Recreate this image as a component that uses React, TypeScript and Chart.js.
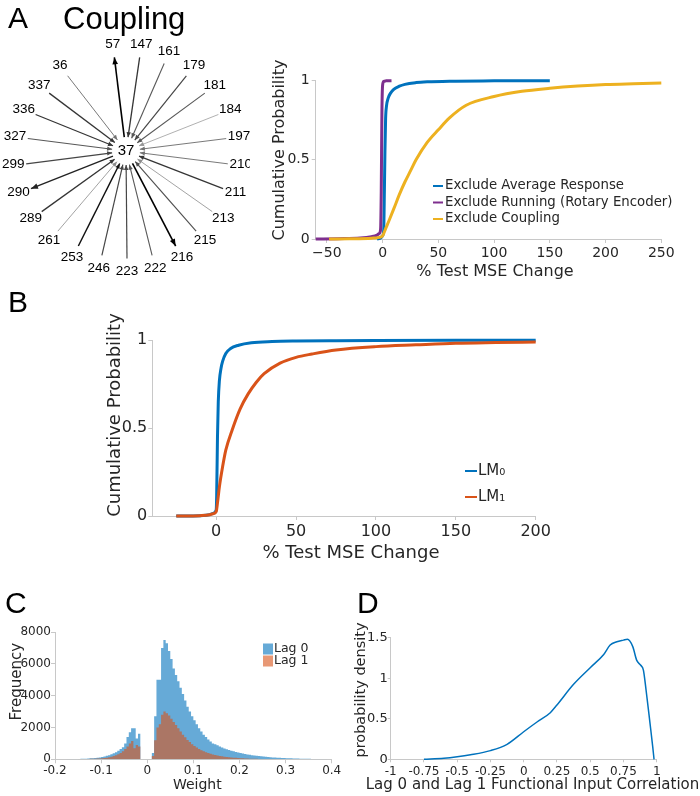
import React, { useEffect, useRef } from 'react';
import { Chart, registerables } from 'chart.js';

Chart.register(...registerables);

// ---------------- data ----------------
// Panel A (left): coupling graph around node 37
const couplingHub = '37';
const couplingNodes = ['57', '147', '161', '179', '181', '184', '197', '210', '211', '213', '215', '216', '222', '223', '246', '253', '261', '289', '290', '299', '327', '336', '337', '36'];
const couplingOutgoing = [true, false, false, false, false, false, false, false, false, false, false, true, false, false, false, false, false, false, true, false, false, false, false, false];
const couplingStrength = [1.0, 0.7, 0.5, 0.6, 0.5, 0.15, 0.35, 0.35, 0.7, 0.2, 0.55, 1.0, 0.5, 0.6, 0.6, 0.9, 0.2, 0.7, 0.8, 0.6, 0.5, 0.7, 0.7, 0.35];

// Panel A (right): CDFs of % test MSE change
const aAvgX = [-5, -2, 0, 1, 1.6, 2.1, 2.7, 3.5, 5, 7, 10, 15, 20, 30, 40, 60, 100, 150];
const aAvgY = [0, 0.005, 0.02, 0.06, 0.3, 0.55, 0.76, 0.84, 0.89, 0.92, 0.945, 0.965, 0.977, 0.988, 0.993, 0.997, 0.999, 1.0];
const aRunX = [-60, -40, -20, -10, -5, -3, -1.8, -1.2, -0.6, 0, 1, 3, 8];
const aRunY = [0, 0.002, 0.006, 0.015, 0.025, 0.035, 0.06, 0.3, 0.8, 0.97, 0.995, 0.999, 1.0];
const aCoupX = [-48, -30, -10, -3, 0, 3, 6, 10, 15, 20, 25, 30, 40, 50, 60, 75, 100, 125, 150, 175, 200, 225, 250];
const aCoupY = [0, 0.001, 0.005, 0.01, 0.02, 0.07, 0.12, 0.19, 0.28, 0.36, 0.43, 0.5, 0.61, 0.69, 0.765, 0.845, 0.9, 0.933, 0.952, 0.966, 0.976, 0.981, 0.985];
const aXTicks = [-50, 0, 50, 100, 150, 200, 250];
const aYTicks = [0, 0.5, 1];

// Panel B: LM0 / LM1
const bLm0X = [-25, -10, -4, -2, 0, 0.3, 0.8, 1.3, 2, 3, 4, 6, 9, 14, 22, 35, 50, 75, 100, 150, 200];
const bLm0Y = [0, 0.002, 0.008, 0.015, 0.035, 0.12, 0.45, 0.65, 0.77, 0.84, 0.88, 0.925, 0.953, 0.972, 0.986, 0.993, 0.996, 0.998, 0.999, 1.0, 1.0];
const bLm1X = [-25, -10, -4, -2, 0, 1, 2, 4, 6, 10, 15, 20, 25, 30, 40, 50, 60, 75, 100, 125, 150, 175, 200];
const bLm1Y = [0, 0.002, 0.007, 0.013, 0.025, 0.09, 0.166, 0.28, 0.375, 0.49, 0.61, 0.695, 0.76, 0.81, 0.87, 0.903, 0.922, 0.945, 0.964, 0.974, 0.983, 0.987, 0.99];
const bXTicks = [0, 50, 100, 150, 200];
const bYTicks = [0, 0.5, 1];

// Panel C: weight histograms (bins of 0.005 from -0.2 to 0.4)
const cBinStart = -0.2;
const cBinWidth = 0.005;
const cLag0 = [
  5, 5, 8, 10, 10, 12, 15, 15, 18, 20,
  25, 30, 35, 40, 50, 60, 70, 85, 100, 120,
  150, 180, 220, 260, 320, 380, 450, 540, 640, 760,
  1000, 1400, 1700, 1950, 1950, 1300, 1600, 0, 0, 0,
  0, 0, 400, 2700, 5000, 5000, 7000, 7500, 7300, 6800,
  6300, 5700, 5300, 4900, 4500, 4100, 3700, 3300, 3000, 2700,
  2450, 2200, 1950, 1750, 1550, 1400, 1250, 1120, 1000, 940,
  880, 800, 740, 680, 630, 580, 540, 500, 460, 420,
  390, 360, 330, 300, 280, 260, 240, 220, 200, 185,
  170, 155, 140, 128, 118, 108, 100, 92, 85, 78,
  72, 66, 60, 55, 50, 46, 42, 38, 35, 32,
  29, 26, 23, 20, 18, 16, 14, 12, 10, 8,
];
const cLag1 = [
  2, 2, 3, 4, 5, 5, 6, 7, 8, 10,
  12, 14, 16, 20, 24, 28, 34, 40, 48, 58,
  70, 85, 105, 130, 160, 200, 250, 320, 400, 500,
  650, 800, 1000, 1150, 700, 900, 800, 0, 0, 0,
  0, 0, 200, 1200, 2000, 2200, 2800, 3000, 2900, 2750,
  2550, 2350, 2150, 1950, 1750, 1550, 1380, 1220, 1080, 950,
  840, 740, 650, 570, 500, 440, 390, 345, 305, 270,
  240, 210, 185, 165, 145, 130, 115, 100, 90, 80,
  70, 62, 55, 48, 42, 37, 33, 29, 26, 23,
  20, 18, 16, 14, 12, 11, 10, 9, 8, 7,
  6, 5, 5, 4, 4, 3, 3, 3, 2, 2,
  2, 2, 1, 1, 1, 1, 1, 1, 1, 0,
];
const cXTicks = [-0.2, -0.1, 0, 0.1, 0.2, 0.3, 0.4];
const cYTicks = [0, 2000, 4000, 6000, 8000];

// Panel D: density of lag0/lag1 functional input correlation
const dX = [-0.75, -0.6, -0.5, -0.4, -0.25, -0.125, 0, 0.1, 0.2, 0.25, 0.375, 0.5, 0.6, 0.65, 0.7, 0.75, 0.78, 0.82, 0.85, 0.88, 0.9, 0.92, 0.95, 0.97, 0.98];
const dY = [0, 0.012, 0.03, 0.055, 0.107, 0.185, 0.34, 0.46, 0.575, 0.67, 0.925, 1.13, 1.29, 1.41, 1.45, 1.47, 1.48, 1.39, 1.22, 1.16, 1.1, 0.855, 0.44, 0.156, 0];
const dXTicks = [-1, -0.75, -0.5, -0.25, 0, 0.25, 0.5, 0.75, 1];
const dYTicks = [0, 0.5, 1, 1.5];

// ---------------- styles ----------------
const SANS = '"DejaVu Sans", Verdana, sans-serif';
const ARIAL = '"Liberation Sans", Arial, sans-serif';
const TEXT_COLOR = '#262626';
const AXIS_COLOR = '#c8c8c8';
const BLUE = '#0072BD';
const ORANGE = '#D95319';
const YELLOW = '#EDB120';
const PURPLE = '#7E2F8E';

type Box = { left: number; top: number; width: number; height: number };

function linearAxis(o: { min: number; max: number; ticks: number[]; size: number; fontSize: number; tickLength: number; padding: number; horizontal: boolean; minus?: boolean }) {
  return {
    type: 'linear',
    min: o.min,
    max: o.max,
    offset: false,
    afterBuildTicks: (s: any) => {
      s.ticks = o.ticks.map((v) => ({ value: v }));
    },
    afterFit: (s: any) => {
      if (o.horizontal) s.height = o.size;
      else s.width = o.size;
    },
    grid: { display: true, drawOnChartArea: false, drawTicks: true, tickLength: o.tickLength, color: AXIS_COLOR, lineWidth: 1, offset: false },
    border: { display: true, color: AXIS_COLOR, width: 1 },
    ticks: {
      color: TEXT_COLOR,
      font: { family: SANS, size: o.fontSize },
      padding: o.padding,
      maxRotation: 0,
      minRotation: 0,
      autoSkip: false,
      callback: (v: any) => (o.minus ? String(v).replace('-', '\u2212') : String(v)),
    },
    title: { display: false },
  };
}

type TitleItem = { text: string; cx: number; cy: number; size: number; rotate?: boolean };
function makeTitles(items: TitleItem[]) {
  return {
    id: 'panelTitles',
    afterDraw(chart: any) {
      const ctx = chart.ctx;
      for (const t of items) {
        ctx.save();
        ctx.translate(t.cx, t.cy);
        if (t.rotate) ctx.rotate(-Math.PI / 2);
        ctx.font = `${t.size}px ${SANS}`;
        ctx.fillStyle = TEXT_COLOR;
        ctx.textAlign = 'center';
        ctx.textBaseline = 'middle';
        ctx.fillText(t.text, 0, 0);
        ctx.restore();
      }
    },
  };
}

type LegendCfg = { x: number; y: number; rowHeight: number; size: number; kind: 'line' | 'box'; markerWidth: number; markerHeight: number; gap: number };
function makeLegend(cfg: LegendCfg) {
  return {
    id: 'panelLegend',
    afterDraw(chart: any) {
      const ctx = chart.ctx;
      ctx.save();
      ctx.font = `${cfg.size}px ${SANS}`;
      ctx.textBaseline = 'middle';
      ctx.textAlign = 'left';
      chart.data.datasets.forEach((ds: any, i: number) => {
        const y = cfg.y + i * cfg.rowHeight;
        const color = ds.legendColor || ds.borderColor;
        if (cfg.kind === 'line') {
          ctx.strokeStyle = color;
          ctx.lineWidth = cfg.markerHeight;
          ctx.beginPath();
          ctx.moveTo(cfg.x, y);
          ctx.lineTo(cfg.x + cfg.markerWidth, y);
          ctx.stroke();
        } else {
          ctx.fillStyle = color;
          ctx.fillRect(cfg.x, y - cfg.markerHeight / 2, cfg.markerWidth, cfg.markerHeight);
        }
        ctx.fillStyle = TEXT_COLOR;
        ctx.fillText(ds.label, cfg.x + cfg.markerWidth + cfg.gap, y);
      });
      ctx.restore();
    },
  };
}

const baseOptions = {
  responsive: false,
  maintainAspectRatio: false,
  animation: false,
  devicePixelRatio: 1,
  events: [],
};

function lineSet(label: string, xs: number[], ys: number[], color: string, width: number, order: number) {
  return {
    label,
    data: xs.map((x, i) => ({ x, y: ys[i] })),
    borderColor: color,
    backgroundColor: color,
    borderWidth: width,
    pointRadius: 0,
    fill: false,
    cubicInterpolationMode: 'monotone',
    clip: false,
    order,
  };
}

// ---------------- chart configs ----------------
function configCdfA() {
  return {
    type: 'line',
    data: {
      datasets: [
        lineSet('Exclude Average Response', aAvgX, aAvgY, BLUE, 3, 2),
        lineSet('Exclude Running (Rotary Encoder)', aRunX, aRunY, PURPLE, 3, 1),
        lineSet('Exclude Coupling', aCoupX, aCoupY, YELLOW, 3, 0),
      ],
    },
    options: {
      ...baseOptions,
      layout: { padding: { left: 0, top: 24.7, right: 38.7, bottom: 0 } },
      plugins: { legend: { display: false }, tooltip: { enabled: false } },
      scales: {
        x: linearAxis({ min: -60, max: 250, ticks: aXTicks, size: 51, fontSize: 14, tickLength: 4, padding: 2, horizontal: true, minus: true }),
        y: linearAxis({ min: 0, max: 1, ticks: aYTicks, size: 65.7, fontSize: 14, tickLength: 4, padding: 2, horizontal: false }),
      },
    },
    plugins: [
      makeTitles([
        { text: '% Test MSE Change', cx: 245, cy: 215.7, size: 16 },
        { text: 'Cumulative Probability', cx: 30, cy: 94, size: 16, rotate: true },
      ]),
      makeLegend({ x: 183, y: 130, rowHeight: 16.5, size: 13.3, kind: 'line', markerWidth: 10, markerHeight: 2, gap: 2 }),
    ],
  };
}

function configCdfB() {
  return {
    type: 'line',
    data: {
      datasets: [
        lineSet('LM\u2080', bLm0X, bLm0Y, BLUE, 3, 1),
        lineSet('LM\u2081', bLm1X, bLm1Y, ORANGE, 3, 0),
      ],
    },
    options: {
      ...baseOptions,
      layout: { padding: { left: 0, top: 60.3, right: 24.3, bottom: 0 } },
      plugins: { legend: { display: false }, tooltip: { enabled: false } },
      scales: {
        x: linearAxis({ min: -40, max: 200, ticks: bXTicks, size: 54, fontSize: 16, tickLength: 4, padding: 2, horizontal: true }),
        y: linearAxis({ min: 0, max: 1, ticks: bYTicks, size: 62.3, fontSize: 16, tickLength: 4, padding: 1, horizontal: false }),
      },
    },
    plugins: [
      makeTitles([
        { text: '% Test MSE Change', cx: 261, cy: 273, size: 18 },
        { text: 'Cumulative Probability', cx: 25, cy: 135, size: 18, rotate: true },
      ]),
      makeLegend({ x: 375, y: 191, rowHeight: 26, size: 15, kind: 'line', markerWidth: 12, markerHeight: 2, gap: 1 }),
    ],
  };
}

function configHistC() {
  // bin centres from the bin grid; bars drawn as a filled step outline (no seams between bins)
  const centers = cLag0.map((_, i) => cBinStart + cBinWidth * (i + 0.5));
  const histSet = (label: string, vals: number[], fillColor: string, legendColor: string, order: number) => ({
    label,
    data: centers.map((x, i) => ({ x, y: vals[i] })),
    stepped: 'middle',
    fill: 'origin',
    backgroundColor: fillColor,
    borderColor: fillColor,
    borderWidth: 0,
    pointRadius: 0,
    legendColor,
    order,
  });
  return {
    type: 'line',
    data: {
      datasets: [
        histSet('Lag 0', cLag0, 'rgb(102,170,215)', 'rgb(102,170,215)', 1),
        histSet('Lag 1', cLag1, 'rgb(171,118,101)', 'rgb(232,152,117)', 0),
      ],
    },
    options: {
      ...baseOptions,
      layout: { padding: { left: 0, top: 32, right: 18.3, bottom: 0 } },
      plugins: { legend: { display: false }, tooltip: { enabled: false }, filler: { propagate: false } },
      scales: {
        x: linearAxis({ min: -0.2, max: 0.4, ticks: cXTicks, size: 36.7, fontSize: 12, tickLength: 4, padding: 0, horizontal: true }),
        y: linearAxis({ min: 0, max: 8000, ticks: cYTicks, size: 55, fontSize: 12, tickLength: 4, padding: 0, horizontal: false }),
      },
    },
    plugins: [
      makeTitles([
        { text: 'Weight', cx: 197.3, cy: 185, size: 14 },
        { text: 'Frequency', cx: 16.7, cy: 81.7, size: 15, rotate: true },
      ]),
      makeLegend({ x: 263, y: 49, rowHeight: 12, size: 12.5, kind: 'box', markerWidth: 10, markerHeight: 11, gap: 1 }),
    ],
  };
}

function configDensityD() {
  return {
    type: 'line',
    data: {
      datasets: [lineSet('density', dX, dY, BLUE, 1.5, 0)],
    },
    options: {
      ...baseOptions,
      layout: { padding: { left: 0, top: 37.7, right: 43.3, bottom: 0 } },
      plugins: { legend: { display: false }, tooltip: { enabled: false } },
      scales: {
        x: linearAxis({ min: -1, max: 1, ticks: dXTicks, size: 36.7, fontSize: 12, tickLength: 3, padding: 2, horizontal: true }),
        y: linearAxis({ min: 0, max: 1.5, ticks: dYTicks, size: 40.7, fontSize: 13, tickLength: 3, padding: 0, horizontal: false }),
      },
    },
    plugins: [
      makeTitles([
        { text: 'Lag 0 and Lag 1 Functional Input Correlation', cx: 182.5, cy: 185, size: 15 },
        { text: 'probability density', cx: 11.7, cy: 90, size: 14.5, rotate: true },
      ]),
    ],
  };
}

// Coupling graph: nodes evenly spaced on a circle (hub's own slot left empty)
const R_LABEL = 114;
const R_LINE = 101;
const R_HUB = 14;
const HUB = { x: -1, y: 6.5 };

function configCoupling() {
  const slots = couplingNodes.length + 1;
  const geom = couplingNodes.map((id, i) => {
    const a = (((i - 0.5) * 360) / slots) * (Math.PI / 180);
    const ux = Math.sin(a);
    const uy = Math.cos(a);
    const outer = { x: R_LINE * ux, y: R_LINE * uy };
    const dx = outer.x - HUB.x;
    const dy = outer.y - HUB.y;
    const d = Math.hypot(dx, dy);
    const inner = { x: HUB.x + (R_HUB * dx) / d, y: HUB.y + (R_HUB * dy) / d };
    return { id, outer, inner, label: { x: R_LABEL * ux, y: R_LABEL * uy }, out: couplingOutgoing[i], w: couplingStrength[i] };
  });
  const datasets = geom.map((g) => {
    const gray = Math.round(175 * (1 - g.w));
    const color = `rgb(${gray},${gray},${gray})`;
    return {
      label: g.id,
      data: g.out ? [g.inner, g.outer] : [g.outer, g.inner],
      showLine: true,
      borderColor: color,
      backgroundColor: color,
      borderWidth: 0.6 + 1.0 * g.w,
      pointRadius: 0,
      clip: false,
      arrowLen: g.out ? 7 : 5,
      arrowHalf: g.out ? 2.8 : 2.2,
    };
  });
  const plugin = {
    id: 'couplingDecor',
    afterDatasetsDraw(chart: any) {
      const ctx = chart.ctx;
      const xs = chart.scales.x;
      const ys = chart.scales.y;
      ctx.save();
      chart.data.datasets.forEach((ds: any, i: number) => {
        const pts = chart.getDatasetMeta(i).data;
        const p0 = pts[0];
        const p1 = pts[1];
        const ang = Math.atan2(p1.y - p0.y, p1.x - p0.x);
        const L = ds.arrowLen;
        const W = ds.arrowHalf;
        const bx = p1.x - L * Math.cos(ang);
        const by = p1.y - L * Math.sin(ang);
        ctx.fillStyle = ds.borderColor;
        ctx.beginPath();
        ctx.moveTo(p1.x, p1.y);
        ctx.lineTo(bx + W * Math.sin(ang), by - W * Math.cos(ang));
        ctx.lineTo(bx - W * Math.sin(ang), by + W * Math.cos(ang));
        ctx.closePath();
        ctx.fill();
      });
      ctx.fillStyle = '#000';
      ctx.textAlign = 'center';
      ctx.textBaseline = 'middle';
      ctx.font = `13.5px ${ARIAL}`;
      geom.forEach((g) => {
        ctx.fillText(g.id, xs.getPixelForValue(g.label.x), ys.getPixelForValue(g.label.y));
      });
      ctx.font = `15px ${ARIAL}`;
      ctx.fillText(couplingHub, xs.getPixelForValue(HUB.x), ys.getPixelForValue(HUB.y));
      ctx.restore();
    },
  };
  return {
    type: 'scatter',
    data: { datasets },
    options: {
      ...baseOptions,
      layout: { padding: 0 },
      plugins: { legend: { display: false }, tooltip: { enabled: false } },
      scales: {
        x: { type: 'linear', display: false, min: -127, max: 123 },
        y: { type: 'linear', display: false, min: -128.5, max: 127.5 },
      },
    },
    plugins: [plugin],
  };
}

// ---------------- components ----------------
function PanelChart({ box, config }: { box: Box; config: () => any }) {
  const ref = useRef<HTMLCanvasElement | null>(null);
  useEffect(() => {
    if (!ref.current) return;
    const chart = new Chart(ref.current, config());
    return () => chart.destroy();
  }, []);
  return (
    <canvas
      ref={ref}
      width={box.width}
      height={box.height}
      style={{ position: 'absolute', left: box.left, top: box.top, width: box.width, height: box.height }}
    />
  );
}

function Label({ text, left, top, size }: { text: string; left: number; top: number; size: number }) {
  return (
    <div
      style={{
        position: 'absolute',
        left,
        top,
        fontFamily: ARIAL,
        fontSize: size,
        lineHeight: `${size}px`,
        color: '#000',
        whiteSpace: 'nowrap',
      }}
    >
      {text}
    </div>
  );
}

export default function App() {
  return (
    <div style={{ position: 'absolute', left: 0, top: 0, width: 700, height: 796, background: '#fff', overflow: 'hidden' }}>
      <PanelChart box={{ left: 0, top: 30, width: 250, height: 256 }} config={configCoupling} />
      <PanelChart box={{ left: 250, top: 56, width: 450, height: 234 }} config={configCdfA} />
      <PanelChart box={{ left: 90, top: 280, width: 470, height: 290 }} config={configCdfB} />
      <PanelChart box={{ left: 0, top: 600, width: 350, height: 196 }} config={configHistC} />
      <PanelChart box={{ left: 350, top: 600, width: 350, height: 196 }} config={configDensityD} />
      <Label text="A" left={8} top={3} size={30} />
      <Label text="Coupling" left={63} top={3} size={31} />
      <Label text="B" left={8} top={287} size={30} />
      <Label text="C" left={5} top={588} size={30} />
      <Label text="D" left={357} top={588} size={30} />
    </div>
  );
}
